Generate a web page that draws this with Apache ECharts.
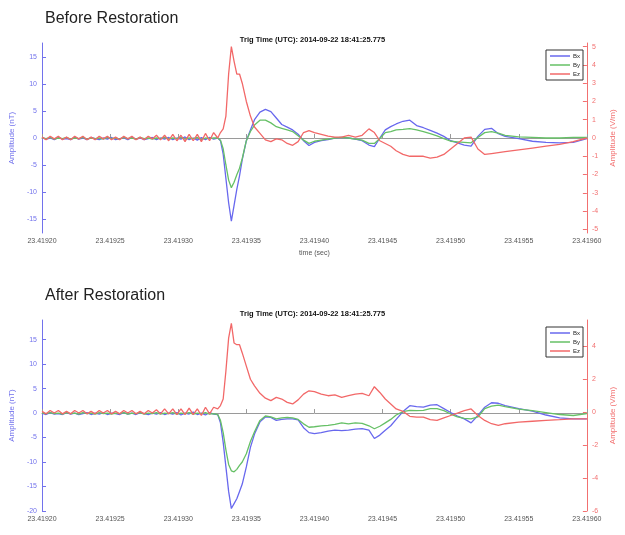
<!DOCTYPE html>
<html>
<head>
<meta charset="utf-8">
<title>Before / After Restoration</title>
<script src="https://cdn.jsdelivr.net/npm/echarts@6/dist/echarts.min.js"></script>
<style>
  html, body { margin: 0; padding: 0; background: #fff; }
  #chart { width: 625px; height: 535px; }
</style>
</head>
<body>
<div id="chart"></div>
<script>
// time axis: microseconds after 23.41920 s
const t0 = 23.41920
const timeUs = [0, 3, 6, 9, 12, 15, 18, 21, 24, 27, 30, 33, 36, 39, 42, 45, 48, 51, 54, 57, 60, 63, 66, 69, 72, 75, 78, 81, 84, 87, 90, 93, 96, 99, 102, 105, 108, 111, 114, 117, 120, 123, 126,
  129, 131, 133, 135, 137, 139, 141, 143, 145, 147,
  150, 153, 156,
  160, 164, 168, 172, 176, 180, 184, 188, 192, 196, 200,
  205, 210, 215, 220, 225, 230, 235, 240,
  244, 248, 252, 256, 260,
  265, 270, 275, 280, 285, 290, 295, 300, 305, 310, 315, 320, 325, 330, 335, 340,
  350, 360, 370, 380, 390, 400]

const seriesNames = ['Bx', 'By', 'Ez']

// Before Restoration (Bx, By in nT, Ez in V/m)
const bxBefore = [0.1, -0.2, 0.0, -0.3, 0.1, -0.2, -0.1, -0.3, 0.1, -0.2, 0.0, -0.3, 0.1, -0.1, -0.3, 0.0, -0.2, 0.1, -0.3, -0.1, 0.0, -0.3, 0.1, -0.2, 0.0, -0.3, -0.1, 0.1, -0.3, 0.0, -0.2, 0.1, -0.3, 0.0, -0.2, 0.2, -0.3, 0.0, -0.4, 0.1, -0.3, 0.1, -0.2,
  0.0, -0.5, -3.0, -7.5, -12.0, -15.4, -12.5, -9.5, -7.0, -4.0,
  -0.5, 1.5, 3.4,
  4.8, 5.3, 4.9, 3.7, 2.5, 2.0, 1.5, 0.7, -0.5, -1.4, -0.8,
  -0.5, -0.3, 0.0, 0.1, 0.0, -0.2, -0.5, -1.3,
  -1.6, 0.0, 1.5, 2.1, 2.6,
  3.1, 3.3, 2.3, 1.9, 1.4, 0.9, 0.3, -0.5, -0.9, -1.3, -1.5, 0.3, 1.6, 1.8, 0.8, 0.3,
  -0.1, -0.6, -0.8, -0.9, -0.8, -0.1]
const byBefore = [0.0, -0.1, 0.1, -0.2, 0.0, -0.1, 0.1, -0.2, 0.0, -0.1, 0.1, -0.2, 0.0, -0.1, 0.0, -0.2, 0.1, -0.1, 0.0, -0.2, 0.1, -0.1, 0.0, -0.2, 0.1, -0.1, 0.0, -0.2, 0.0, -0.1, 0.1, -0.2, 0.0, -0.1, 0.1, -0.2, 0.0, -0.1, 0.1, -0.3, 0.0, -0.1, 0.0,
  0.0, -0.4, -2.0, -5.0, -7.8, -9.2, -8.2, -6.8, -5.6, -3.8,
  -0.5, 1.2, 2.4,
  3.3, 3.3, 2.8, 2.1, 1.8, 1.5, 1.2, 0.4, -0.4, -1.0, -0.6,
  -0.4, -0.2, 0.0, 0.1, 0.0, -0.2, -0.4, -1.0,
  -1.0, -0.1, 1.0, 1.2, 1.5,
  1.6, 1.75, 1.5, 1.2, 0.8, 0.4, -0.1, -0.6, -0.7, -0.8, -0.9, 0.1, 1.0, 1.2, 0.9, 0.5,
  0.2, 0.1, 0.0, 0.0, 0.1, 0.1]
const ezBefore = [0.05, -0.1, 0.1, -0.05, 0.1, -0.1, 0.05, -0.1, 0.1, -0.05, 0.1, -0.1, 0.05, -0.1, 0.1, -0.05, 0.1, -0.1, 0.05, -0.1, 0.1, -0.05, 0.1, -0.1, 0.05, -0.1, 0.1, -0.05, 0.15, -0.1, 0.15, -0.15, 0.2, -0.15, 0.15, -0.2, 0.2, -0.15, 0.2, -0.2, 0.25, -0.15, 0.3,
  0.0, 0.3, 0.5, 1.2, 3.5, 5.0, 4.2, 3.5, 3.5, 3.0,
  2.0, 1.2, 0.6,
  0.25, -0.1, -0.2, -0.05, -0.1, -0.3, -0.4, -0.2, 0.3, 0.4, 0.3,
  0.2, 0.1, 0.05, 0.05, 0.15, 0.05, 0.15, 0.5,
  0.3, -0.15, -0.3, -0.45, -0.7,
  -0.9, -1.0, -1.0, -1.0, -1.1, -1.05, -0.9, -0.6, -0.3, 0.0, 0.05, -0.6, -0.9, -0.85, -0.8, -0.75,
  -0.65, -0.55, -0.45, -0.35, -0.2, 0.0]

// After Restoration
const bxAfter = [0.0, -0.3, 0.1, -0.2, -0.1, -0.3, 0.1, -0.2, 0.0, -0.3, -0.1, 0.1, -0.3, 0.0, -0.2, 0.1, -0.3, 0.0, -0.1, -0.3, 0.1, -0.2, 0.0, -0.3, 0.1, -0.1, -0.3, 0.0, -0.2, 0.1, -0.3, 0.0, -0.2, 0.1, -0.4, 0.0, -0.2, 0.2, -0.3, 0.0, -0.4, 0.1, -0.2,
  -0.3, -2.0, -6.0, -11.0, -16.0, -19.5, -18.5, -17.5, -16.0, -14.5,
  -11.0, -7.0, -4.3,
  -1.8, -0.8, -0.9, -1.5, -1.3, -1.2, -1.2, -1.4, -3.0, -4.0, -4.2,
  -4.0, -3.7, -3.5, -3.6, -3.5, -3.3, -3.2, -3.5,
  -5.2, -4.5, -3.5, -2.6, -1.3,
  0.3, 1.5, 1.3, 1.2, 1.6, 1.7, 0.9, 0.1, -0.6, -1.2, -2.0, -0.5, 1.2, 2.1, 2.0, 1.5,
  0.9, 0.4, -0.4, -1.0, -1.2, -1.2]
const byAfter = [0.0, -0.1, 0.1, -0.1, 0.0, -0.2, 0.1, -0.1, 0.0, -0.2, 0.1, -0.1, 0.0, -0.2, 0.1, -0.1, 0.0, -0.2, 0.0, -0.1, 0.1, -0.2, 0.0, -0.1, 0.1, -0.2, 0.0, -0.1, 0.1, -0.2, 0.0, -0.1, 0.1, -0.2, 0.0, -0.1, 0.1, -0.2, 0.0, -0.1, 0.1, -0.2, -0.1,
  -0.3, -1.5, -4.0, -7.5, -10.5, -11.8, -12.0, -11.5, -10.7, -10.0,
  -8.3, -5.8, -3.8,
  -1.5, -0.6, -0.8, -1.2, -1.0, -0.9, -1.0, -1.3, -2.2, -2.9, -2.8,
  -2.6, -2.5, -2.3, -2.0, -2.2, -2.0, -2.1, -2.6,
  -3.2, -2.7, -2.0, -1.3, -0.4,
  0.3, 0.55, 0.5, 0.55, 0.9, 0.9, 0.5, -0.2, -0.8, -1.1, -1.2, -0.8, 0.9, 1.4, 1.6, 1.3,
  0.8, 0.5, 0.1, -0.3, -0.5, -0.1]
const ezAfter = [0.05, -0.1, 0.1, -0.05, 0.1, -0.1, 0.05, -0.1, 0.1, -0.05, 0.1, -0.1, 0.05, -0.1, 0.1, -0.05, 0.1, -0.1, 0.05, -0.1, 0.1, -0.05, 0.1, -0.1, 0.05, -0.1, 0.1, -0.05, 0.15, -0.1, 0.2, -0.1, 0.2, -0.15, 0.2, -0.15, 0.25, -0.15, 0.2, -0.2, 0.3, -0.1, 0.3,
  0.2, 0.4, 0.8, 2.5, 4.5, 5.4, 4.2, 4.1, 4.1, 3.6,
  2.8, 2.0, 1.6,
  1.15, 0.85, 0.7, 0.9, 0.8, 0.6, 0.5, 0.75, 1.1, 1.3, 1.25,
  1.1, 1.0, 1.05, 0.9, 1.0, 1.1, 1.15, 1.0,
  1.55, 1.2, 0.8, 0.5, 0.2,
  0.05, -0.25, -0.3, -0.3, -0.45, -0.5, -0.35, -0.2, -0.05, 0.1, 0.2, -0.2, -0.5, -0.7, -0.8, -0.7,
  -0.6, -0.55, -0.5, -0.45, -0.4, -0.4]

// tick values
const nTTicksBefore = [-15, -10, -5, 0, 5, 10, 15]
const vmTicksBefore = [-5, -4, -3, -2, -1, 0, 1, 2, 3, 4, 5]
const nTTicksAfter = [-20, -15, -10, -5, 0, 5, 10, 15]
const vmTicksAfter = [-6, -4, -2, 0, 2, 4]

const panelTitles = ['Before Restoration', 'After Restoration']
const trigTime = 'Trig Time (UTC): 2014-09-22 18:41:25.775'

const font = 'Liberation Sans, Arial, sans-serif'
const colors = { Bx: '#6868ee', By: '#66c066', Ez: '#f26868' }
const blueAxis = '#7272ec'
const redAxis = '#f27070'

function pairs (values) {
  return timeUs.map((t, i) => [t, values[i]])
}

function makeXAxis (gridIndex, withName) {
  return {
    type: 'value',
    gridIndex: gridIndex,
    min: 0,
    max: 400,
    interval: 50,
    name: withName ? 'time (sec)' : '',
    nameLocation: 'middle',
    nameGap: 17,
    nameTextStyle: { fontSize: 7, color: '#555', fontFamily: font },
    axisLine: { lineStyle: { color: '#9a9a9a' } },
    axisTick: { inside: true, length: 4, lineStyle: { color: '#9a9a9a' } },
    axisLabel: {
      fontSize: 7,
      color: '#555',
      fontFamily: font,
      margin: 5,
      formatter: function (v) {
        return (t0 + v * 1e-6).toFixed(5)
      }
    },
    splitLine: { show: false }
  }
}

function makeYAxis (gridIndex, side, min, max, ticks, name, color) {
  return {
    type: 'value',
    gridIndex: gridIndex,
    position: side,
    min: min,
    max: max,
    name: name,
    nameLocation: 'middle',
    nameRotate: 90,
    nameGap: side === 'left' ? 17 : 16,
    nameTextStyle: { fontSize: 8, color: color, fontFamily: font },
    axisLine: { show: true, onZero: false, lineStyle: { color: color } },
    axisTick: { show: true, inside: true, length: 4, customValues: ticks, lineStyle: { color: color } },
    axisLabel: { fontSize: 7, color: color, fontFamily: font, margin: 5, customValues: ticks },
    splitLine: { show: false }
  }
}

function makeLegend (top) {
  return {
    data: seriesNames,
    orient: 'vertical',
    right: 42,
    top: top,
    icon: 'rect',
    itemWidth: 20,
    itemHeight: 1.5,
    itemGap: 3,
    padding: [3, 3, 3, 4],
    backgroundColor: '#fff',
    borderColor: '#333',
    borderWidth: 1,
    borderRadius: 0,
    selectedMode: false,
    textStyle: { fontSize: 6, color: '#222', fontFamily: font, padding: [0, 0, 0, -2] }
  }
}

function makeLine (name, data, xAxisIndex, yAxisIndex) {
  return {
    name: name,
    type: 'line',
    data: pairs(data),
    xAxisIndex: xAxisIndex,
    yAxisIndex: yAxisIndex,
    showSymbol: false,
    symbol: 'none',
    smooth: false,
    lineStyle: { width: 1.3, color: colors[name] },
    itemStyle: { color: colors[name] }
  }
}

const chart = echarts.init(document.getElementById('chart'))
chart.setOption({
  animation: false,
  backgroundColor: '#fff',
  title: [
    { text: panelTitles[0], left: 40, top: 6, textStyle: { fontSize: 16, fontWeight: 'normal', color: '#222', fontFamily: font } },
    { text: trigTime, left: 'center', top: 31, textStyle: { fontSize: 7.5, fontWeight: 'bold', color: '#111', fontFamily: font } },
    { text: panelTitles[1], left: 40, top: 283, textStyle: { fontSize: 16, fontWeight: 'normal', color: '#222', fontFamily: font } },
    { text: trigTime, left: 'center', top: 305, textStyle: { fontSize: 7.5, fontWeight: 'bold', color: '#111', fontFamily: font } }
  ],
  legend: [makeLegend(50), makeLegend(327)],
  grid: [
    { left: 42, top: 43, width: 545, height: 190 },
    { left: 42, top: 320, width: 545, height: 191 }
  ],
  xAxis: [makeXAxis(0, true), makeXAxis(1, false)],
  yAxis: [
    makeYAxis(0, 'left', -17.6, 17.6, nTTicksBefore, 'Amplitude (nT)', blueAxis),
    makeYAxis(0, 'right', -5.2, 5.2, vmTicksBefore, 'Amplitude (V/m)', redAxis),
    makeYAxis(1, 'left', -20, 19, nTTicksAfter, 'Amplitude (nT)', blueAxis),
    makeYAxis(1, 'right', -6, 5.6, vmTicksAfter, 'Amplitude (V/m)', redAxis)
  ],
  series: [
    makeLine('Bx', bxBefore, 0, 0),
    makeLine('By', byBefore, 0, 0),
    makeLine('Ez', ezBefore, 0, 1),
    makeLine('Bx', bxAfter, 1, 2),
    makeLine('By', byAfter, 1, 2),
    makeLine('Ez', ezAfter, 1, 3)
  ]
})
</script>
</body>
</html>
